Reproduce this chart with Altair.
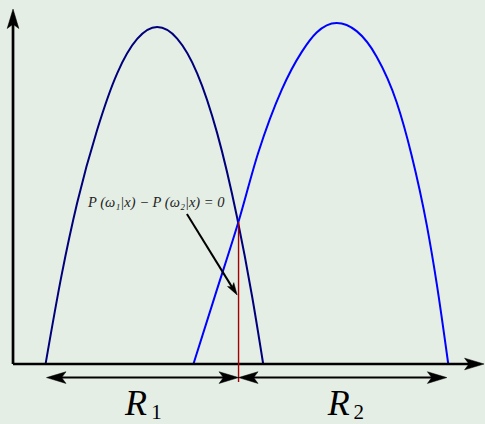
import altair as alt
import pandas as pd

# Sampled posterior curves P(w1|x) and P(w2|x)
w1_x = [0.70, 1.05, 1.38, 1.81, 2.24, 2.67, 3.10, 3.53, 3.96, 4.39, 4.82, 5.14, 5.38]
w1_y = [0.00, 2.65, 4.74, 6.89, 8.55, 9.56, 9.91, 9.57, 8.55, 6.79, 4.30, 2.00, 0.00]
w2_x = [3.88, 4.37, 4.85, 5.27, 5.78, 6.21, 6.53, 6.96, 7.39, 7.82, 8.25, 8.57, 8.90, 9.11, 9.36]
w2_y = [0.00, 2.12, 4.19, 6.20, 8.07, 9.18, 9.75, 10.03, 9.79, 9.04, 7.70, 6.15, 4.07, 2.38, 0.00]

# Decision boundary and the two decision regions
boundary_x = 4.85
boundary_top = 4.18
boundary_bottom = -0.53
region_y = -0.40
r1_span = [0.72, 4.85]
r2_span = [4.85, 9.33]

# Coordinate axes (arrow tips)
x_axis_tip = 10.13
y_axis_tip = 10.44

# Annotation arrow: tail and tip
note_tail = [3.74, 4.41]
note_tip = [4.82, 2.03]
note_text = "P (ω₁|x) − P (ω₂|x) = 0"
note_pos = [3.08, 4.62]

XS = alt.Scale(domain=[-0.28, 10.15], nice=False, zero=False)
YS = alt.Scale(domain=[-1.765, 10.706], nice=False, zero=False)


def xq(f="x"):
    return alt.X(f"{f}:Q", scale=XS, axis=None)


def yq(f="y"):
    return alt.Y(f"{f}:Q", scale=YS, axis=None)


# stealth arrowhead, tip at the origin, pointing up
ARROW = "M0,0 L0.6,2 L0,1.55 L-0.6,2 Z"

w1 = pd.DataFrame({"x": w1_x, "y": w1_y})
w2 = pd.DataFrame({"x": w2_x, "y": w2_y})

curve1 = alt.Chart(w1).mark_line(interpolate="monotone", color="#00007a", strokeWidth=2).encode(x=xq(), y=yq())
curve2 = alt.Chart(w2).mark_line(interpolate="monotone", color="#0000ff", strokeWidth=2).encode(x=xq(), y=yq())

# axes lines
axes_df = pd.DataFrame([
    {"x": 0, "y": 0, "x2": x_axis_tip - 0.30, "y2": 0},
    {"x": 0, "y": 0, "x2": 0, "y2": y_axis_tip - 0.40},
])
axes = alt.Chart(axes_df).mark_rule(color="black", strokeWidth=2.7).encode(
    x=xq(), y=yq(), x2="x2:Q", y2="y2:Q")

# region span lines
span_df = pd.DataFrame([
    {"x": r1_span[0] + 0.2, "x2": r1_span[1] - 0.2, "y": region_y},
    {"x": r2_span[0] + 0.2, "x2": r2_span[1] - 0.2, "y": region_y},
])
spans = alt.Chart(span_df).mark_rule(color="black", strokeWidth=2).encode(
    x=xq(), x2="x2:Q", y=yq())

# decision boundary
bnd_df = pd.DataFrame([{"x": boundary_x, "y": boundary_top, "y2": boundary_bottom}])
boundary = alt.Chart(bnd_df).mark_rule(color="#a50000", strokeWidth=1.4).encode(
    x=xq(), y=yq(), y2="y2:Q")

# annotation arrow shaft
shaft_df = pd.DataFrame([{"x": note_tail[0], "y": note_tail[1],
                          "x2": note_tip[0] - 0.06, "y2": note_tip[1] + 0.12}])
shaft = alt.Chart(shaft_df).mark_rule(color="black", strokeWidth=2).encode(
    x=xq(), y=yq(), x2="x2:Q", y2="y2:Q")

# arrowheads
big_heads = pd.DataFrame([
    {"x": 0, "y": y_axis_tip, "angle": 0},
    {"x": x_axis_tip, "y": 0, "angle": 90},
    {"x": r1_span[0], "y": region_y, "angle": 270},
    {"x": r1_span[1], "y": region_y, "angle": 90},
    {"x": r2_span[0], "y": region_y, "angle": 270},
    {"x": r2_span[1], "y": region_y, "angle": 90},
])
heads = alt.Chart(big_heads).mark_point(
    shape=ARROW, filled=True, fill="black", stroke="black", strokeWidth=0.5, size=380, opacity=1
).encode(x=xq(), y=yq(), angle=alt.Angle("angle:Q", scale=None))

note_head_df = pd.DataFrame([{"x": note_tip[0], "y": note_tip[1], "angle": 148}])
note_head = alt.Chart(note_head_df).mark_point(
    shape=ARROW, filled=True, fill="black", stroke="black", strokeWidth=0.5, size=150, opacity=1
).encode(x=xq(), y=yq(), angle=alt.Angle("angle:Q", scale=None))

# annotation text
note_df = pd.DataFrame([{"x": note_pos[0], "y": note_pos[1], "t": note_text}])
note = alt.Chart(note_df).mark_text(
    font="Liberation Serif", fontStyle="italic", fontSize=14.5, color="#222222",
    align="center", baseline="alphabetic"
).encode(x=xq(), y=yq(), text="t:N")

# region labels
r_df = pd.DataFrame([
    {"x": 2.41, "y": -1.50, "t": "R"},
    {"x": 6.77, "y": -1.50, "t": "R"},
])
sub_df = pd.DataFrame([
    {"x": 2.97, "y": -1.63, "t": "1"},
    {"x": 7.32, "y": -1.63, "t": "2"},
])
r_lab = alt.Chart(r_df).mark_text(
    font="Liberation Serif", fontStyle="italic", fontSize=36, color="black",
    align="left", baseline="alphabetic"
).encode(x=xq(), y=yq(), text="t:N")
r_sub = alt.Chart(sub_df).mark_text(
    font="Liberation Serif", fontSize=21, color="black",
    align="left", baseline="alphabetic"
).encode(x=xq(), y=yq(), text="t:N")

chart = alt.layer(
    curve1, curve2, axes, spans, boundary, shaft, heads, note_head, note, r_lab, r_sub
).properties(
    width=485, height=424, padding=0, autosize=alt.AutoSizeParams(type="none"),
    background="#e4eee5"
).configure_view(stroke=None)

chart.save("out.html", embed_options={"renderer": "svg", "actions": False})
